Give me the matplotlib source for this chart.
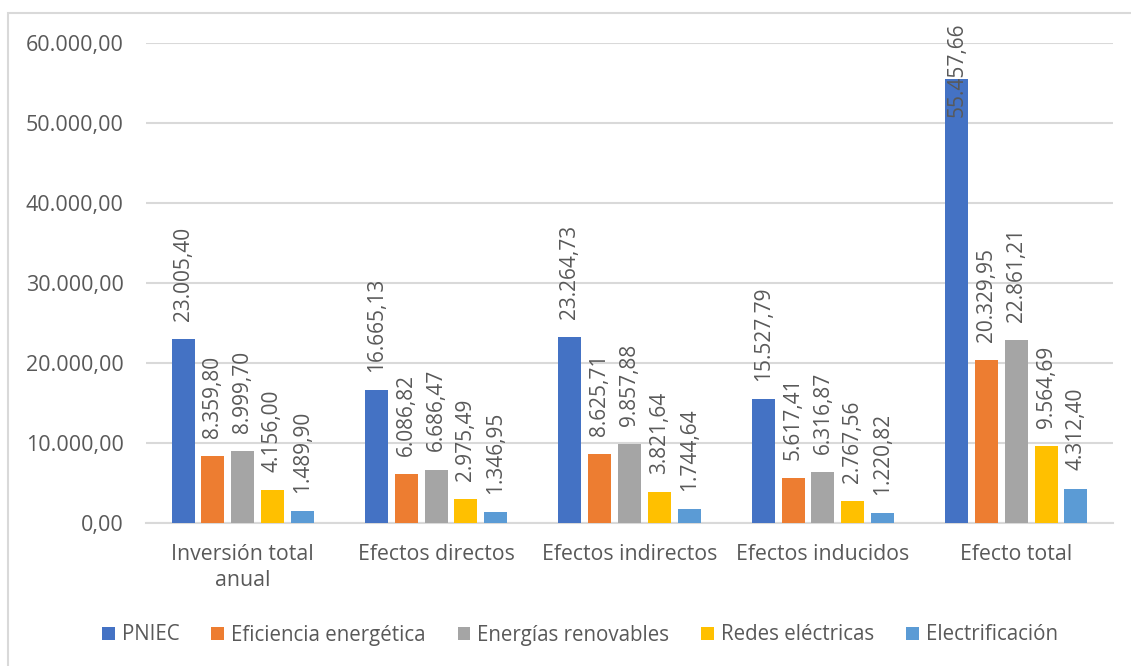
import matplotlib
matplotlib.use("Agg")
import matplotlib.pyplot as plt
from matplotlib.patches import Rectangle, Patch
import numpy as np

categories = ["Inversión total\nanual", "Efectos directos", "Efectos indirectos", "Efectos inducidos", "Efecto total"]
series_names = ["PNIEC", "Eficiencia energética", "Energías renovables", "Redes eléctricas", "Electrificación"]
pniec = [23005.40, 16665.13, 23264.73, 15527.79, 55457.66]
eficiencia = [8359.80, 6086.82, 8625.71, 5617.41, 20329.95]
renovables = [8999.70, 6686.47, 9857.88, 6316.87, 22861.21]
redes = [4156.00, 2975.49, 3821.64, 2767.56, 9564.69]
electrificacion = [1489.90, 1346.95, 1744.64, 1220.82, 4312.40]
yticks = [0, 10000, 20000, 30000, 40000, 50000, 60000]
colors = ["#4472C4", "#ED7D31", "#A5A5A5", "#FFC000", "#5B9BD5"]

def fmt(v):
    s = f"{v:,.2f}"
    return s.replace(",", "X").replace(".", ",").replace("X", ".")

plt.rcParams['font.family'] = ['Open Sans', 'DejaVu Sans']
txt = "#595959"

W, H = 1131, 666
fig = plt.figure(figsize=(W/100, H/100), dpi=100)
fig.patches.append(Rectangle((8/W, -0.01), 1.02, 1 - 13/H + 0.01, transform=fig.transFigure,
                             fill=False, edgecolor="#D9D9D9", linewidth=1.5))
ax = fig.add_axes([146/W, 1 - 523/H, (1113-146)/W, (523-43)/H])

ymax = 60000
data = [pniec, eficiencia, renovables, redes, electrificacion]
x = np.arange(len(categories))
step = 0.154
width = 0.119
for i, (name, vals, c) in enumerate(zip(series_names, data, colors)):
    pos = x + (i - 2) * step
    ax.bar(pos, vals, width=width, color=c, label=name, zorder=3)
    for p, v in zip(pos, vals):
        if v > 0.85 * ymax:
            # label would not fit above the bar: pin it to the top, as the original does
            ax.annotate(fmt(v), (p, ymax), xytext=(0, 15), textcoords="offset points",
                        rotation=90, ha="center", va="top", fontsize=15, color=txt,
                        zorder=5, annotation_clip=False)
        else:
            ax.annotate(fmt(v), (p, v), xytext=(0, 13), textcoords="offset points",
                        rotation=90, ha="center", va="bottom", fontsize=15, color=txt,
                        zorder=5, annotation_clip=False)

ax.set_xlim(-0.5, 4.5)
ax.set_ylim(0, ymax)
ax.set_yticks(yticks)
ax.set_yticklabels([fmt(t) for t in yticks])
ax.set_xticks(x)
ax.set_xticklabels(categories, linespacing=1.3)
ax.tick_params(axis="y", length=0, pad=16, labelsize=15.5, labelcolor=txt)
ax.tick_params(axis="x", length=0, pad=15, labelsize=15.3, labelcolor=txt)
ax.grid(axis="y", color="#D9D9D9", linewidth=1.5, zorder=0)
for s in ["top", "right", "left"]:
    ax.spines[s].set_visible(False)
ax.spines["bottom"].set_color("#D9D9D9")
ax.spines["bottom"].set_linewidth(1.5)

handles = [Patch(facecolor=c, edgecolor="none") for c in colors]
leg = fig.legend(handles, series_names, loc="center", bbox_to_anchor=(580/W, 1 - 635/H),
                 ncol=5, frameon=False, fontsize=14.8, handlelength=0.62, handleheight=0.62,
                 handletextpad=0.35, columnspacing=1.55)
for t in leg.get_texts():
    t.set_color(txt)

fig.savefig("out.png", dpi=100)
